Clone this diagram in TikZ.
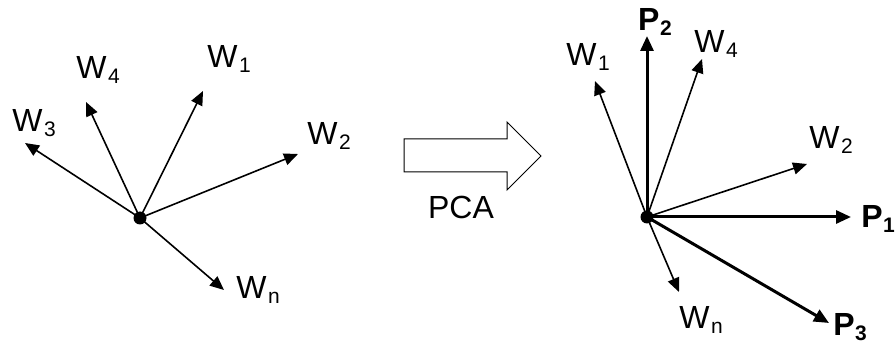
\documentclass[tikz,border=0pt]{standalone}
\usepackage{fontspec}
\setmainfont{Liberation Sans}
\usetikzlibrary{arrows.meta}
\newcommand{\Wl}[1]{W\kern1.5pt\raisebox{-4.5pt}{\fontsize{21}{21}\selectfont #1}}
\newcommand{\Pl}[1]{\textbf{P}\kern0.5pt\raisebox{-4.5pt}{\fontsize{21}{21}\selectfont\bfseries #1}}
\begin{document}
\begin{tikzpicture}[x=1pt,y=-1pt,
  vec/.style={line width=1.6pt,-{Triangle[length=14pt,width=12pt]}},
  pvec/.style={line width=3pt,-{Triangle[length=15pt,width=13pt]}},
  lbl/.style={inner sep=0pt,font=\fontsize{32}{32}\selectfont},
  dot/.style={circle,fill=black,inner sep=0pt,minimum size=13pt}]
\useasboundingbox (0,0) rectangle (896,344);
% left
\node[dot] (c) at (140,218) {};
\coordinate (w3) at (25,143);
\coordinate (w4) at (86,102);
\coordinate (w1) at (203,91);
\coordinate (w2) at (298,154);
\coordinate (wn) at (224,290);
\foreach \t in {w3,w4,w1,w2,wn} \draw[vec] (c.center) -- (\t);
\node[lbl] (lw3) at (34,123) {\Wl{3}};
\node[lbl] (lw4) at (98,70) {\Wl{4}};
\node[lbl] (lw1) at (229,59) {\Wl{1}};
\node[lbl] (lw2) at (329,136) {\Wl{2}};
\node[lbl] (lwn) at (258,290) {\Wl{n}};
% PCA arrow
\draw[line width=1pt,line join=miter] (404,139) -- (507,139) -- (507,122) -- (541,156) -- (507,190) -- (507,172) -- (404,172) -- cycle;
\node[lbl] (pca) at (461,207) {PCA};
% right
\node[dot] (d) at (647,217) {};
\coordinate (rp2) at (647,36);
\coordinate (rw1) at (595,81);
\coordinate (rw4) at (702,59);
\coordinate (rw2) at (807,164);
\coordinate (rp1) at (851,217);
\coordinate (rp3) at (829,323);
\coordinate (rwn) at (679,292);
\foreach \t in {rw1,rw4,rw2,rwn} \draw[vec] (d.center) -- (\t);
\foreach \t in {rp2,rp1,rp3} \draw[pvec] (d.center) -- (\t);
\node[lbl] (lp2) at (655,22) {\Pl{2}};
\node[lbl] (lrw1) at (588,57) {\Wl{1}};
\node[lbl] (lrw4) at (716,44) {\Wl{4}};
\node[lbl] (lrw2) at (831,140) {\Wl{2}};
\node[lbl] (lp1) at (878,219) {\Pl{1}};
\node[lbl] (lp3) at (850,327) {\Pl{3}};
\node[lbl] (lrwn) at (701,320) {\Wl{n}};
\end{tikzpicture}
\end{document}
